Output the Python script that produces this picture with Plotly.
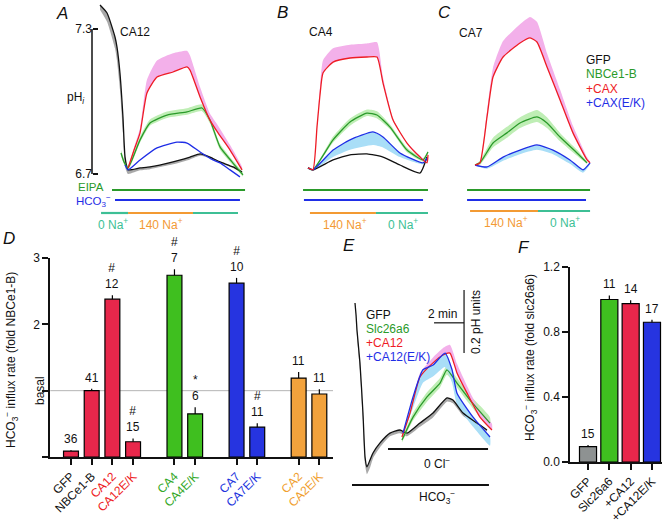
import plotly.graph_objects as go

W, H = 670, 525

# ---------------- A: CA12 (time in min, pHi) ----------------
tA_gfp = [0, 0.47, 1.0, 1.13, 1.33, 1.53, 1.67, 1.87, 2.67, 3.33, 4.87, 6.0, 6.67, 7.33, 8.0, 8.87, 9.47]
pA_gfp = [7.399, 7.366, 7.267, 7.226, 7.118, 6.936, 6.770, 6.717, 6.725, 6.729, 6.750, 6.770, 6.783, 6.770, 6.750, 6.729, 6.708]
pA_gfp_lo = [7.38, 7.33, 7.22, 7.17, 7.05, 6.87, 6.73, 6.70, 6.715, 6.72, 6.74, 6.76, 6.775, 6.765, 6.745, 6.725, 6.705]
tA_nbc = [1.4, 1.6, 1.87, 2.67, 3.33, 4.47, 5.8, 6.8, 7.33, 8.0, 8.8, 9.53]
pA_nbc = [6.787, 6.750, 6.725, 6.841, 6.911, 6.944, 6.957, 6.973, 6.923, 6.812, 6.750, 6.696]
pA_nbc_up = [6.80, 6.76, 6.735, 6.855, 6.925, 6.958, 6.972, 6.988, 6.935, 6.825, 6.76, 6.705]
pA_nbc_lo = [6.775, 6.74, 6.715, 6.83, 6.90, 6.932, 6.945, 6.96, 6.91, 6.80, 6.74, 6.69]
tA_ca = [1.87, 2.27, 2.67, 3.13, 3.8, 4.87, 5.8, 6.0, 6.67, 7.33, 7.87, 8.67, 9.47]
pA_ca = [6.725, 6.799, 6.870, 7.035, 7.101, 7.122, 7.143, 7.130, 7.019, 6.923, 6.870, 6.799, 6.717]
pA_ca_up = [6.725, 6.81, 6.89, 7.09, 7.17, 7.20, 7.21, 7.19, 7.06, 6.95, 6.90, 6.82, 6.73]
tA_ek = [1.67, 1.87, 2.67, 3.8, 5.13, 5.8, 6.67, 7.53, 8.0, 8.67, 9.33]
pA_ek = [6.737, 6.717, 6.758, 6.808, 6.832, 6.828, 6.791, 6.758, 6.746, 6.717, 6.688]

# ---------------- B: CA4 ----------------
tB_gfp = [0.2, 0.53, 1.87, 3.0, 4.13, 5.2, 6.33, 7.67, 8.13]
pB_gfp = [6.725, 6.717, 6.758, 6.779, 6.783, 6.770, 6.737, 6.704, 6.770]
tB_nbc = [0.2, 0.53, 1.87, 3.0, 4.13, 4.8, 5.67, 6.8, 7.87, 8.2]
pB_nbc = [6.725, 6.717, 6.841, 6.915, 6.952, 6.944, 6.894, 6.799, 6.758, 6.791]
pB_nbc_up = [6.73, 6.72, 6.855, 6.93, 6.967, 6.96, 6.905, 6.81, 6.765, 6.795]
pB_nbc_lo = [6.72, 6.714, 6.83, 6.90, 6.94, 6.93, 6.885, 6.79, 6.752, 6.787]
tB_ca = [0.2, 0.53, 0.8, 1.0, 1.2, 1.87, 3.0, 4.13, 4.8, 5.2, 5.87, 6.8, 7.67, 8.13, 8.2]
pB_ca = [6.725, 6.717, 6.894, 7.027, 7.118, 7.163, 7.180, 7.184, 7.184, 7.077, 6.923, 6.828, 6.770, 6.746, 6.779]
pB_ca_up = [6.725, 6.717, 6.90, 7.06, 7.17, 7.22, 7.235, 7.24, 7.245, 7.10, 6.93, 6.83, 6.775, 6.75, 6.78]
tB_ek = [0.2, 0.53, 1.87, 3.0, 4.53, 5.2, 6.33, 7.87, 8.13]
pB_ek = [6.725, 6.717, 6.799, 6.841, 6.874, 6.853, 6.787, 6.746, 6.766]
pB_ek_lo = [6.72, 6.715, 6.77, 6.80, 6.82, 6.81, 6.77, 6.74, 6.76]

# ---------------- C: CA7 ----------------
tC_nbc = [0.2, 0.53, 1.4, 2.33, 3.2, 4.33, 5.0, 5.87, 7.0, 7.67]
pC_nbc = [6.737, 6.746, 6.828, 6.870, 6.911, 6.936, 6.911, 6.853, 6.787, 6.746]
pC_nbc_up = [6.74, 6.755, 6.85, 6.895, 6.935, 6.965, 6.935, 6.87, 6.80, 6.75]
pC_nbc_lo = [6.734, 6.738, 6.81, 6.85, 6.89, 6.915, 6.89, 6.835, 6.775, 6.742]
tC_ca = [0.2, 0.53, 1.0, 1.4, 2.07, 3.2, 3.87, 4.33, 5.0, 5.87, 6.73, 7.67, 7.87]
pC_ca = [6.737, 6.746, 6.936, 7.101, 7.184, 7.242, 7.263, 7.246, 7.143, 7.006, 6.870, 6.758, 6.746]
pC_ca_up = [6.737, 6.75, 6.96, 7.14, 7.25, 7.32, 7.35, 7.33, 7.20, 7.05, 6.90, 6.77, 6.75]
tC_ek = [0.2, 1.0, 2.07, 3.2, 4.33, 5.4, 6.53, 7.4, 7.87]
pC_ek = [6.737, 6.729, 6.770, 6.799, 6.820, 6.799, 6.758, 6.717, 6.746]
pC_ek_lo = [6.734, 6.722, 6.755, 6.782, 6.80, 6.782, 6.742, 6.705, 6.74]

# solution changes (min)
eipa = {"A": [0.8, 9.67], "B": [-0.13, 8.2], "C": [-0.33, 7.87]}
hco3 = {"A": [1.0, 9.33], "B": [-0.07, 7.87], "C": [-0.33, 7.6]}
na_A = [0.07, 1.87, 6.2, 9.2]   # 0 Na | 140 Na | 0 Na
na_B = [0.33, 4.73, 8.2]        # 140 Na | 0 Na
na_C = [-0.13, 4.4, 7.87]

# ---------------- D: bar chart ----------------
cats_D = ["GFP", "NBCe1-B", "CA12", "CA12E/K", "CA4", "CA4E/K", "CA7", "CA7E/K", "CA2", "CA2E/K"]
pos_D = [0, 1, 2, 3, 5, 6, 8, 9, 11, 12]
vals_D = [0.09, 1.0, 2.38, 0.23, 2.74, 0.65, 2.62, 0.45, 1.19, 0.95]
err_D = [0.01, 0.03, 0.06, 0.05, 0.09, 0.10, 0.08, 0.06, 0.09, 0.07]
n_D = ["36", "41", "#<br>12", "#<br>15", "#<br>7", "*<br>6", "#<br>10", "#<br>11", "11", "11"]

# ---------------- E: Slc26a6 trace ----------------
tE_gfp = [0, 0.07, 0.13, 0.33, 0.53, 0.67, 0.8, 1.0, 1.2, 1.67, 2.33, 3.0, 3.47, 4.33, 5.2, 6.13, 6.53, 7.2, 8.13, 8.8]
pE_gfp = [7.403, 7.365, 7.318, 7.213, 7.054, 6.914, 6.883, 6.905, 6.927, 6.959, 6.990, 7.0, 6.990, 7.022, 7.054, 7.102, 7.095, 7.054, 7.022, 7.0]
pE_gfp_lo = [7.40, 7.36, 7.30, 7.19, 7.03, 6.89, 6.86, 6.88, 6.91, 6.945, 6.98, 6.99, 6.98, 7.01, 7.04, 7.09, 7.085, 7.045, 7.015, 6.995]
tE_slc = [3.13, 3.87, 4.8, 5.67, 6.13, 6.8, 7.67, 9.0]
pE_slc = [6.968, 7.041, 7.105, 7.149, 7.191, 7.149, 7.095, 7.022]
pE_slc_up = [6.975, 7.055, 7.12, 7.165, 7.205, 7.165, 7.11, 7.04]
pE_slc_lo = [6.96, 7.03, 7.09, 7.135, 7.175, 7.135, 7.08, 7.005]
tE_ca = [3.13, 3.67, 4.33, 5.2, 5.87, 6.33, 6.8, 7.47, 8.33, 9.13]
pE_ca = [6.978, 7.054, 7.168, 7.213, 7.238, 7.244, 7.181, 7.117, 7.041, 7.0]
pE_ca_up = [6.978, 7.06, 7.18, 7.23, 7.26, 7.27, 7.21, 7.14, 7.06, 7.02]
tE_ek = [3.2, 3.87, 4.53, 5.2, 6.0, 6.47, 6.8, 7.87, 9.0]
pE_ek = [6.990, 7.105, 7.191, 7.206, 7.244, 7.191, 7.117, 7.041, 6.978]
pE_ek_lo = [6.985, 7.07, 7.15, 7.17, 7.20, 7.15, 7.08, 7.01, 6.95]
cl0_E = [2.2, 8.87]
hco3_E = [-0.2, 8.93]

# ---------------- F: bar chart ----------------
cats_F = ["GFP", "Slc26a6", "+CA12", "+CA12E/K"]
vals_F = [0.095, 1.0, 0.975, 0.86]
err_F = [0.01, 0.025, 0.02, 0.015]
n_F = ["15", "11", "14", "17"]

BLACK, GREEN, RED, BLUE = "#111111", "#2a9a2a", "#ee1c25", "#1f2ee6"
PINK, LGREEN, LBLUE, GRAY = "#f3b0ea", "#bfeeb5", "#a9def7", "#a9a9a9"
TEAL, ORANGE = "#3dbf95", "#f39a33"
FONT = "Liberation Sans, Arial, sans-serif"


def px(x):
    return x / W


def py(y):
    return 1 - y / H


fig = go.Figure()


def band(t, up, lo, color, xa, ya):
    fig.add_trace(go.Scatter(x=t + t[::-1], y=up + lo[::-1], fill="toself", fillcolor=color,
                             mode="lines", line=dict(width=0, shape="spline", smoothing=0.5),
                             hoverinfo="skip", xaxis=xa, yaxis=ya))


def trace(t, p, color, xa, ya):
    fig.add_trace(go.Scatter(x=t, y=p, mode="lines",
                             line=dict(color=color, width=1.3, shape="spline", smoothing=0.5),
                             xaxis=xa, yaxis=ya))


# A
band(tA_gfp, pA_gfp, pA_gfp_lo, GRAY, "x", "y")
band(tA_nbc, pA_nbc_up, pA_nbc_lo, LGREEN, "x", "y")
band(tA_ca, pA_ca_up, pA_ca, PINK, "x", "y")
trace(tA_gfp, pA_gfp, BLACK, "x", "y")
trace(tA_nbc, pA_nbc, GREEN, "x", "y")
trace(tA_ek, pA_ek, BLUE, "x", "y")
trace(tA_ca, pA_ca, RED, "x", "y")
# B
band(tB_nbc, pB_nbc_up, pB_nbc_lo, LGREEN, "x2", "y2")
band(tB_ca, pB_ca_up, pB_ca, PINK, "x2", "y2")
band(tB_ek, pB_ek, pB_ek_lo, LBLUE, "x2", "y2")
trace(tB_gfp, pB_gfp, BLACK, "x2", "y2")
trace(tB_nbc, pB_nbc, GREEN, "x2", "y2")
trace(tB_ek, pB_ek, BLUE, "x2", "y2")
trace(tB_ca, pB_ca, RED, "x2", "y2")
# C
band(tC_nbc, pC_nbc_up, pC_nbc_lo, LGREEN, "x3", "y3")
band(tC_ca, pC_ca_up, pC_ca, PINK, "x3", "y3")
band(tC_ek, pC_ek, pC_ek_lo, LBLUE, "x3", "y3")
trace(tC_nbc, pC_nbc, GREEN, "x3", "y3")
trace(tC_ek, pC_ek, BLUE, "x3", "y3")
trace(tC_ca, pC_ca, RED, "x3", "y3")
# E
band(tE_gfp, pE_gfp, pE_gfp_lo, GRAY, "x5", "y5")
band(tE_slc, pE_slc_up, pE_slc_lo, LGREEN, "x5", "y5")
band(tE_ca, pE_ca_up, pE_ca, PINK, "x5", "y5")
band(tE_ek, pE_ek, pE_ek_lo, LBLUE, "x5", "y5")
trace(tE_gfp, pE_gfp, BLACK, "x5", "y5")
trace(tE_slc, pE_slc, GREEN, "x5", "y5")
trace(tE_ca, pE_ca, RED, "x5", "y5")
trace(tE_ek, pE_ek, BLUE, "x5", "y5")

# D bars
colD = ["#e8274b"] * 4 + ["#3fbf1f"] * 2 + ["#2634e0"] * 2 + ["#f2a23c"] * 2
fig.add_trace(go.Bar(x=pos_D, y=vals_D, width=0.72, marker=dict(color=colD, line=dict(color="black", width=1.2)),
                     error_y=dict(type="data", array=err_D, arrayminus=[0] * len(err_D), symmetric=False,
                                  color="black", thickness=1.2, width=0),
                     xaxis="x4", yaxis="y4"))
# F bars
colF = ["#8e9292", "#3fbf1f", "#e8274b", "#2634e0"]
fig.add_trace(go.Bar(x=list(range(len(cats_F))), y=vals_F, width=0.8,
                     marker=dict(color=colF, line=dict(color="black", width=1.2)),
                     error_y=dict(type="data", array=err_F, arrayminus=[0] * len(err_F), symmetric=False,
                                  color="black", thickness=1.2, width=0),
                     xaxis="x6", yaxis="y6"))

tick_col = {"GFP": BLACK, "NBCe1-B": BLACK, "CA12": RED, "CA12E/K": RED, "CA4": "#35a82a", "CA4E/K": "#35a82a",
            "CA7": "#2233dd", "CA7E/K": "#2233dd", "CA2": "#f0a030", "CA2E/K": "#f0a030"}
ticktext_D = ["<span style='color:%s'>%s</span>" % (tick_col[c], c) for c in cats_D]

shapes = []
ann = []


def hline(xref, x0, x1, y, color, w=2.2):
    shapes.append(dict(type="line", xref=xref, yref="paper", x0=x0, x1=x1, y0=py(y), y1=py(y),
                       line=dict(color=color, width=w)))


def text(x, y, s, size=12, color=BLACK, xanchor="center", angle=0):
    ann.append(dict(x=px(x), y=py(y), xref="paper", yref="paper", text=s, showarrow=False,
                    font=dict(size=size, color=color, family=FONT), xanchor=xanchor, yanchor="middle",
                    textangle=angle))


# condition bars under A, B, C
for key, xr in (("A", "x"), ("B", "x2"), ("C", "x3")):
    hline(xr, eipa[key][0], eipa[key][1], 190, GREEN)
    hline(xr, hco3[key][0], hco3[key][1], 200, BLUE)
hline("x", na_A[0], na_A[1], 213, TEAL)
hline("x", na_A[1], na_A[2], 213, ORANGE)
hline("x", na_A[2], na_A[3], 213, TEAL)
hline("x2", na_B[0], na_B[1], 213, ORANGE)
hline("x2", na_B[1], na_B[2], 213, TEAL)
hline("x3", na_C[0], na_C[1], 211, ORANGE)
hline("x3", na_C[1], na_C[2], 211, TEAL)

# pHi bracket
shapes.append(dict(type="line", xref="paper", yref="y", x0=px(92), x1=px(92), y0=6.7, y1=7.3,
                   line=dict(color=BLACK, width=1.5)))
# basal line in D
shapes.append(dict(type="line", xref="x4", yref="y4", x0=-1.0, x1=12.66, y0=1, y1=1,
                   line=dict(color="#b5b5b5", width=1), layer="below"))
# E condition bars and scale bar
hline("x5", cl0_E[0], cl0_E[1], 449, BLACK, 2)
hline("x5", hco3_E[0], hco3_E[1], 485, BLACK, 2)
shapes.append(dict(type="line", xref="x5", yref="y5", x0=5.27, x1=7.27, y0=7.34, y1=7.34,
                   line=dict(color=BLACK, width=1.2)))
shapes.append(dict(type="line", xref="x5", yref="y5", x0=7.27, x1=7.27, y0=7.2445, y1=7.4445,
                   line=dict(color=BLACK, width=1.2)))

# panel letters
for s, x, y in (("A", 62, 13), ("B", 282, 12), ("C", 444, 12), ("D", 9, 238), ("E", 349, 245), ("F", 524, 247)):
    text(x, y, "<i>%s</i>" % s, size=17)

text(118, 32, "CA12", xanchor="left")
text(307, 32, "CA4", xanchor="left")
text(457, 33, "CA7", xanchor="left")
text(76, 98, "pH<sub><i>i</i></sub>")
for i, (s, c) in enumerate((("GFP", BLACK), ("NBCe1-B", GREEN), ("+CAX", RED), ("+CAX(E/K)", BLUE))):
    text(584, 60 + 14.3 * i, s, color=c, xanchor="left")
text(106, 187, "EIPA", color=GREEN, xanchor="right", size=11.5)
text(113, 201, "HCO<sub>3</sub><sup>−</sup>", color=BLUE, xanchor="right", size=11.5)
text(113, 224, "0 Na<sup>+</sup>", color=TEAL)
text(161, 224, "140 Na<sup>+</sup>", color=ORANGE)
text(345, 224, "140 Na<sup>+</sup>", color=ORANGE)
text(403, 224, "0 Na<sup>+</sup>", color=TEAL)
text(506, 222, "140 Na<sup>+</sup>", color=ORANGE)
text(565, 222, "0 Na<sup>+</sup>", color=TEAL)

text(11, 360, "HCO<sub>3</sub><sup>−</sup> influx rate (fold NBCe1-B)", angle=-90)
text(40, 391, "basal", angle=-90)
text(530, 358, "HCO<sub>3</sub><sup>−</sup> influx rate (fold slc26a6)", angle=-90)

for i, (s, c) in enumerate((("GFP", BLACK), ("Slc26a6", GREEN), ("+CA12", RED), ("+CA12(E/K)", BLUE))):
    text(364, 315 + 14 * i, s, color=c, xanchor="left")
text(442, 314, "2 min")
text(476, 322, "0.2 pH units", angle=-90)
text(437, 463, "0 Cl<sup>−</sup>")
text(437, 497, "HCO<sub>3</sub><sup>−</sup>")

for x, v, e, s in zip(pos_D, vals_D, err_D, n_D):
    ann.append(dict(x=x, y=v + e, xref="x4", yref="y4", text=s, showarrow=False, yanchor="bottom", yshift=2,
                    font=dict(size=12, color=BLACK, family=FONT)))
for i, (v, e, s) in enumerate(zip(vals_F, err_F, n_F)):
    ann.append(dict(x=i, y=v + e, xref="x6", yref="y6", text=s, showarrow=False, yanchor="bottom", yshift=2,
                    font=dict(size=12, color=BLACK, family=FONT)))

hidden = dict(visible=False, showgrid=False, zeroline=False, automargin=False)
axis_style = dict(showline=True, linecolor=BLACK, linewidth=1.5, ticks="outside", ticklen=6, tickwidth=1.5,
                  tickcolor=BLACK, showgrid=False, zeroline=False, automargin=False,
                  tickfont=dict(size=12, family=FONT, color=BLACK))

fig.update_layout(
    width=W, height=H, margin=dict(l=0, r=0, t=0, b=0, pad=0),
    paper_bgcolor="white", plot_bgcolor="white", showlegend=False,
    font=dict(family=FONT, size=12, color=BLACK),
    xaxis=dict(domain=[px(95), px(250)], range=[-0.333, 10.0], anchor="y", **hidden),
    yaxis=dict(domain=[py(180), py(0)], range=[6.675, 7.42], anchor="free", position=px(92),
               tickvals=[6.7, 7.3], ticktext=["6.7", "7.3"], ticks="inside", ticklen=5, tickwidth=1.5,
               tickcolor=BLACK, showline=False, showgrid=False, zeroline=False, automargin=False,
               tickfont=dict(size=12, family=FONT, color=BLACK)),
    xaxis2=dict(domain=[px(300), px(435)], range=[-0.333, 8.667], anchor="y2", **hidden),
    yaxis2=dict(domain=[py(180), py(0)], range=[6.675, 7.42], anchor="x2", **hidden),
    xaxis3=dict(domain=[px(465), px(600)], range=[-0.467, 8.533], anchor="y3", **hidden),
    yaxis3=dict(domain=[py(180), py(0)], range=[6.675, 7.42], anchor="x3", **hidden),
    xaxis4=dict(domain=[px(50), px(333)], range=[-1.014, 12.66], anchor="y4", tickvals=pos_D,
                ticktext=ticktext_D, tickangle=-45, **axis_style),
    yaxis4=dict(domain=[py(457), py(258)], range=[0, 3], anchor="x4", tickvals=[0, 1, 2, 3],
                ticktext=["", "", "2", "3"], **axis_style),
    xaxis5=dict(domain=[px(345), px(500)], range=[-0.667, 9.667], anchor="y5", **hidden),
    yaxis5=dict(domain=[py(500), py(285)], range=[6.778, 7.46], anchor="x5", **hidden),
    xaxis6=dict(domain=[px(570), px(662)], range=[-0.845, 3.47], anchor="y6", tickvals=[0, 1, 2, 3],
                ticktext=cats_F, tickangle=-45, **axis_style),
    yaxis6=dict(domain=[py(462), py(267)], range=[0, 1.2], anchor="x6", tickvals=[0, 0.4, 0.8, 1.2],
                ticktext=["0.0", "0.4", "0.8", "1.2"], **axis_style),
    shapes=shapes, annotations=ann,
)

# page body has a default 8px margin; drop it so the figure sits at the window's corner
fig.write_html("out.html", config={"displayModeBar": False},
               post_script="document.body.style.margin='0';")
